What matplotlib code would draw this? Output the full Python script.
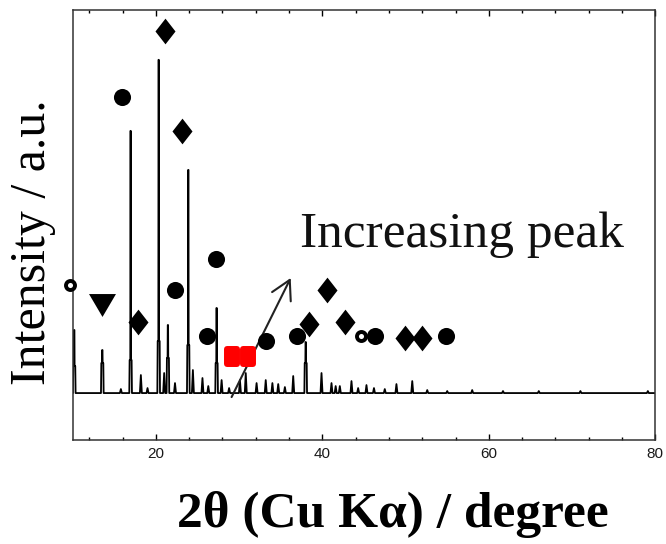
import numpy as np
import matplotlib.pyplot as plt
from matplotlib.path import Path
from matplotlib.markers import MarkerStyle
from matplotlib.ticker import MultipleLocator

# XRD peaks: 2theta, peak height, shoulder height (0 = plain spike)
peak_pos = [10.2, 13.57, 15.8, 16.97, 18.2, 19.0, 20.34, 21.0, 21.45, 22.3, 23.9,
            24.45, 25.6, 26.3, 27.3, 27.9, 28.8, 30.1, 30.8, 32.1, 33.2, 34.0,
            34.7, 35.5, 36.5, 38.0, 39.9, 41.1, 41.6, 42.1, 43.5, 44.3, 45.3,
            46.2, 47.5, 48.9, 50.8, 52.6, 55.0, 58.0, 61.7, 66.0, 71.0, 79.1]
peak_height = [63, 43, 4, 262, 18, 5, 333, 20, 68, 10, 223,
               23, 15, 7, 85, 13, 5, 13, 20, 10, 13, 10,
               9, 6, 17, 51, 20, 10, 7, 7, 12, 5, 8,
               5, 4, 9, 12, 3, 2, 3, 2, 2, 2, 2]
peak_shoulder = [27, 30, 0, 33, 0, 0, 52, 0, 35, 0, 48,
                 0, 0, 0, 30, 0, 0, 0, 0, 0, 0, 0,
                 0, 0, 0, 30, 0, 0, 0, 0, 0, 0, 0,
                 0, 0, 0, 0, 0, 0, 0, 0, 0, 0, 0]

# phase markers (2theta, height)
circle_x = [15.9, 22.3, 27.2, 26.1, 33.2, 36.9, 46.3, 54.9]
circle_y = [296, 103, 134, 57, 52, 57, 57, 57]
diamond_x = [17.8, 21.1, 23.2, 38.4, 40.6, 42.7, 49.9, 52.0]
diamond_y = [71, 362, 262, 69, 103, 71, 55, 55]
ring_x = [9.7, 44.7]
ring_y = [108, 57]
triangle_x = [13.5]
triangle_y = [88]
square_x = [29.1, 31.1]
square_y = [37, 37]

arrow_from = (29.1, -4)
arrow_to = (36.2, 115)
note_pos = (37.3, 146)

# build the spectrum outline from the peak list
xs, ys = [10.0], [0.0]
for p, h, s in zip(peak_pos, peak_height, peak_shoulder):
    if s > 0:
        xs += [p - 0.16, p - 0.12, p - 0.04, p - 0.02, p + 0.02, p + 0.04, p + 0.12, p + 0.16]
        ys += [0, s, s, h, h, s, s, 0]
    else:
        xs += [p - 0.12, p, p + 0.12]
        ys += [0, h, 0]
xs.append(80.0)
ys.append(0.0)

fig = plt.figure(figsize=(6.66, 5.44), dpi=100)
ax = fig.add_axes([0.109, 0.191, 0.875, 0.791])

ax.plot(xs, ys, color='black', lw=1.3, zorder=2)

diamond = Path([(0, 1), (0.78, 0), (0, -1), (-0.78, 0), (0, 1)],
               [Path.MOVETO, Path.LINETO, Path.LINETO, Path.LINETO, Path.CLOSEPOLY])
triangle = Path([(-1, 0.85), (1, 0.85), (0, -0.85), (-1, 0.85)],
                [Path.MOVETO, Path.LINETO, Path.LINETO, Path.CLOSEPOLY])
rect = Path([(-0.73, -1), (0.73, -1), (0.73, 1), (-0.73, 1), (-0.73, -1)],
            [Path.MOVETO, Path.LINETO, Path.LINETO, Path.LINETO, Path.CLOSEPOLY])

ax.plot(circle_x, circle_y, 'o', ms=12.3, color='black', mec='none', zorder=4)
ax.plot(diamond_x, diamond_y, ls='none', marker=diamond, ms=18.5, color='black',
        mec='none', zorder=4)
ax.plot(triangle_x, triangle_y, ls='none', marker=triangle, ms=19.4, color='black',
        mec='none', zorder=4)
ax.plot(square_x, square_y, ls='none', marker=MarkerStyle(rect, joinstyle='round'),
        ms=10.8, color='#ff0000', mec='#ff0000', mew=4.3, zorder=4)
ax.plot(ring_x, ring_y, 'o', ms=6.5, mfc='white', mec='black', mew=2.8,
        zorder=5, clip_on=False)

ax.annotate('', xy=arrow_to, xytext=arrow_from,
            arrowprops=dict(arrowstyle='->,head_length=0.45,head_width=0.25',
                            lw=1.5, color='#222222', mutation_scale=30,
                            shrinkA=0, shrinkB=0), zorder=3)
ax.text(note_pos[0], note_pos[1], 'Increasing peak', fontsize=37,
        family='Liberation Serif', color='#111111', ha='left', va='baseline')

ax.set_xlim(10, 80)
ax.set_ylim(-47, 383)
ax.set_xticks([20, 40, 60, 80])
ax.xaxis.set_minor_locator(MultipleLocator(4))
ax.set_yticks([])
ax.tick_params(axis='x', which='both', direction='in', top=True, width=1,
               labelsize=11, labelcolor='#1a1a1a', pad=5)
ax.tick_params(axis='x', which='major', length=4)
ax.tick_params(axis='x', which='minor', length=2.5)
for lab in ax.get_xticklabels():
    lab.set_family('Liberation Sans')
for sp in ax.spines.values():
    sp.set_linewidth(1.1)
    sp.set_color('#333333')

ax.set_xlabel('2θ (Cu Kα) / degree', fontsize=37, family='Liberation Serif',
              fontweight='bold', va='baseline')
ax.xaxis.set_label_coords(0.55, -0.202)
ax.set_ylabel('Intensity / a.u.', fontsize=36, family='Liberation Serif',
              rotation=90, rotation_mode='anchor', ha='center', va='baseline')
ax.yaxis.set_label_coords(-0.047, 0.459)

fig.savefig('out.png', dpi=100)
